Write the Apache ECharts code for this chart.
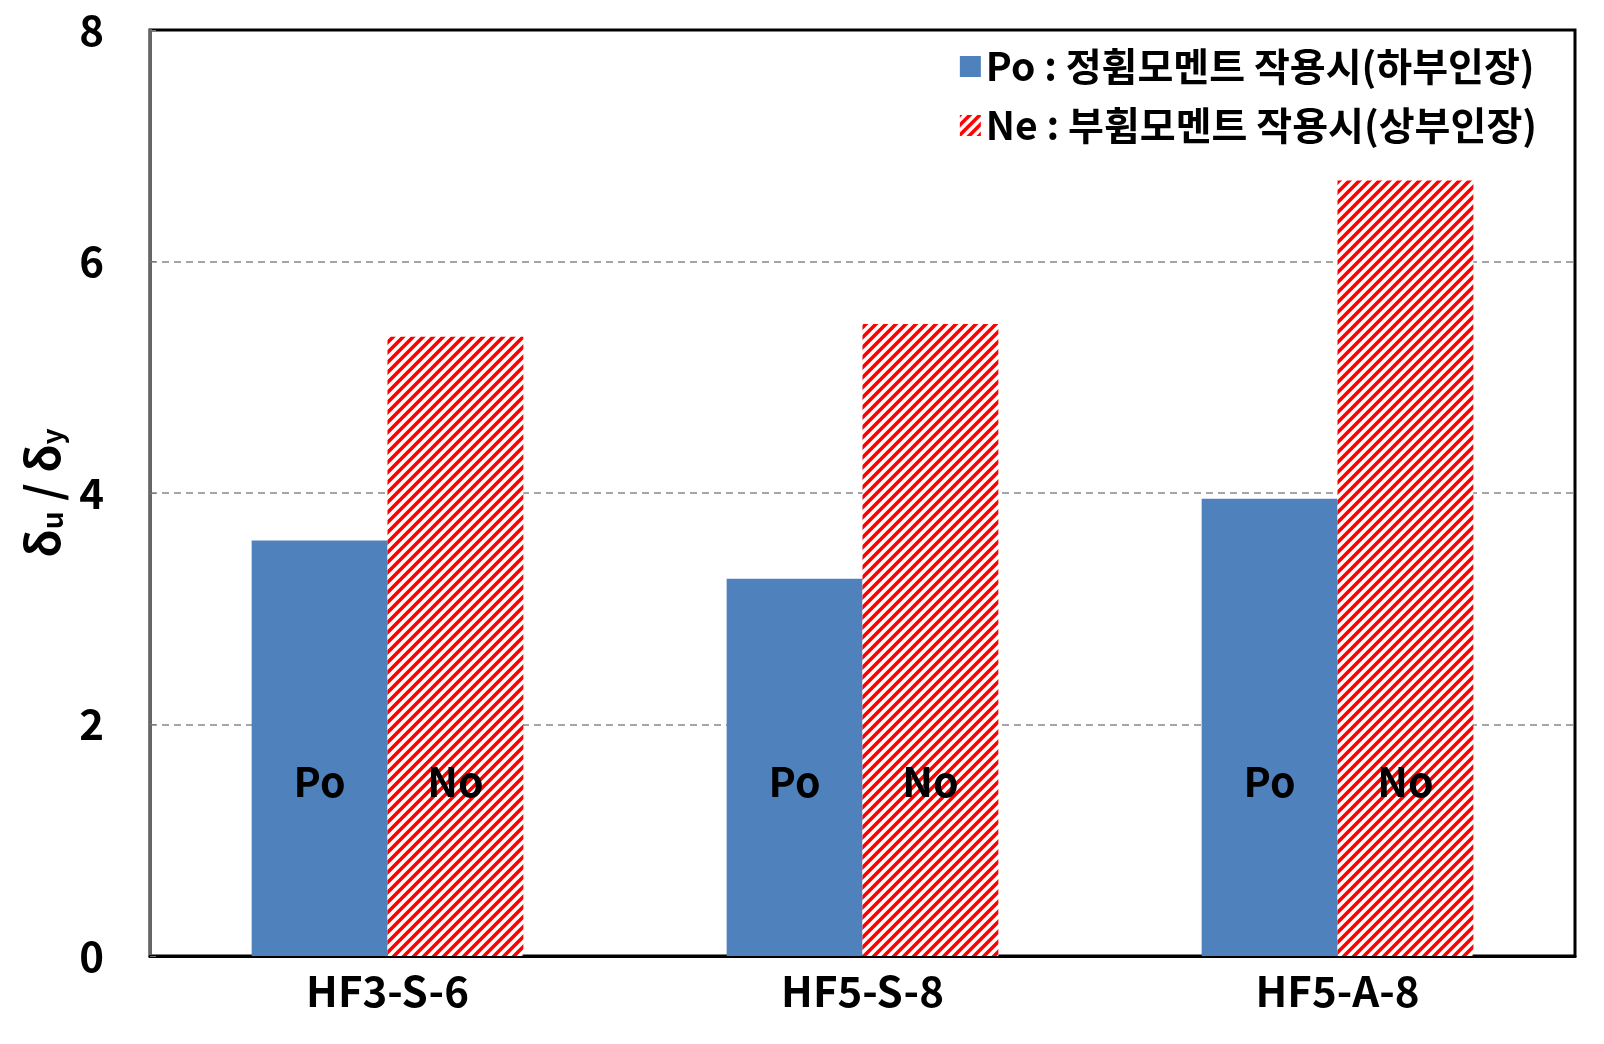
<!DOCTYPE html>
<html><head><meta charset="utf-8">
<script src="https://cdn.jsdelivr.net/npm/echarts@6/dist/echarts.min.js"></script>
<style>html,body{margin:0;padding:0;background:#fff}#c{width:1604px;height:1044px}</style>
</head><body><div id="c"></div>
<script>
const categories = ['HF3-S-6', 'HF5-S-8', 'HF5-A-8'];
const poValues = [3.59, 3.26, 3.95];
const neValues = [5.35, 5.46, 6.70];
const yTicks = [0, 2, 4, 6, 8];
const seriesNames = ['Po : 정휨모멘트 작용시(하부인장)', 'Ne : 부휨모멘트 작용시(상부인장)'];
const barLabels = ['Po', 'No'];

const FONT = '"Noto Sans CJK KR", "Noto Sans", sans-serif';

function hatch() {
  const s = 10;
  const c = document.createElement('canvas');
  c.width = s; c.height = s;
  const g = c.getContext('2d');
  g.fillStyle = '#fff'; g.fillRect(0, 0, s, s);
  g.strokeStyle = '#ff0000'; g.lineWidth = 3.6;
  g.beginPath();
  g.moveTo(-2, s + 2); g.lineTo(s + 2, -2);
  g.moveTo(-3, 3); g.lineTo(3, -3);
  g.moveTo(s - 3, s + 3); g.lineTo(s + 3, s - 3);
  g.stroke();
  return c;
}
const hatchFill = { image: hatch(), repeat: 'repeat' };

const chart = echarts.init(document.getElementById('c'));
chart.setOption({
  backgroundColor: '#fff',
  animation: false,
  grid: { left: 150, right: 29, top: 30, bottom: 88, show: true, borderColor: '#000', borderWidth: 3, backgroundColor: 'transparent' },
  legend: {
    right: 62, top: 42, orient: 'vertical', itemGap: 20,
    itemWidth: 21, itemHeight: 21,
    textStyle: { fontFamily: FONT, fontWeight: 'bold', fontSize: 39, color: '#000' },
    data: [
      { name: seriesNames[0], icon: 'rect' },
      { name: seriesNames[1], icon: 'rect' }
    ]
  },
  xAxis: {
    type: 'category', data: categories,
    axisLine: { show: true, lineStyle: { color: '#000', width: 3 } },
    axisTick: { show: false },
    axisLabel: { fontFamily: FONT, fontWeight: 'bold', fontSize: 42, color: '#000', margin: 14 }
  },
  yAxis: {
    type: 'value', min: 0, max: 8, interval: 2,
    name: '{d|δ}{s|u}{d| / δ}{s|y}',
    nameLocation: 'middle', nameGap: 84, nameRotate: 90,
    nameTextStyle: {
      rich: {
        d: { fontFamily: FONT, fontWeight: 'bold', fontSize: 46, color: '#000' },
        s: { fontFamily: FONT, fontWeight: 'bold', fontSize: 28, color: '#000', verticalAlign: 'bottom', padding: [18, 0, 0, 0] }
      }
    },
    axisLine: { show: true, lineStyle: { color: '#666', width: 3 } },
    axisTick: { show: true, inside: true, length: 6, lineStyle: { color: '#777' } },
    axisLabel: { fontFamily: FONT, fontWeight: 'bold', fontSize: 42, color: '#000', margin: 46,
      formatter: v => yTicks.includes(v) ? String(v) : '' },
    splitLine: { show: true, showMinLine: false, showMaxLine: false, lineStyle: { color: '#888', type: [7, 5], width: 1.5 } }
  },
  series: [
    {
      name: seriesNames[0], type: 'bar', data: poValues,
      barWidth: '28.6%', barGap: '0%',
      itemStyle: { color: '#4f81bd' },
      label: { show: true, position: 'insideBottom', distance: 154, formatter: () => barLabels[0],
        fontFamily: FONT, fontWeight: 'bold', fontSize: 41, color: '#000' }
    },
    {
      name: seriesNames[1], type: 'bar', data: neValues,
      barWidth: '28.6%', barGap: '0%',
      itemStyle: { color: hatchFill },
      label: { show: true, position: 'insideBottom', distance: 154, formatter: () => barLabels[1],
        fontFamily: FONT, fontWeight: 'bold', fontSize: 41, color: '#000' }
    }
  ]
});
</script></body></html>
